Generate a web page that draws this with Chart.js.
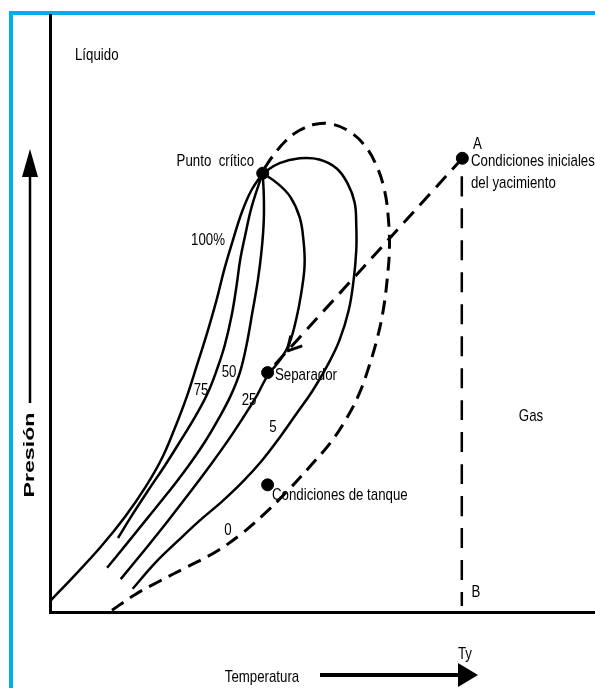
<!DOCTYPE html>
<html>
<head>
<meta charset="utf-8">
<script src="https://cdn.jsdelivr.net/npm/chart.js@4.4.1/dist/chart.umd.min.js"></script>
<style>
  html, body { margin: 0; padding: 0; background: #fff; }
  #wrap { position: relative; width: 595px; height: 688px; overflow: hidden; }
  #marco { position: absolute; left: 9px; top: 11px; width: 700px; height: 800px;
           border-top: 4px solid #00aeef; border-left: 4px solid #00aeef; }
  canvas { position: absolute; left: 0; top: 0; }
</style>
</head>
<body>
<div id="wrap">
  <div id="marco"></div>
  <canvas id="fase" width="601" height="688"></canvas>
</div>
<script>
// Temperatura (x) y presión (y) en unidades relativas 0-100
const curva100 = [[0.2,2.0],[4.8,6.4],[9.5,11.1],[13.9,16.1],[17.6,21.0],[20.6,25.8],[22.9,30.7],[25.0,35.7],
  [27.0,41.3],[29.0,47.1],[30.6,52.2],[32.1,57.6],[33.6,62.2],[35.2,66.8],[37.0,70.6],[39.1,73.5]];
const curva75 = [[39.1,73.5],[38.0,70.6],[36.9,67.3],[36.0,63.6],[35.0,59.2],[34.3,54.7],[33.4,49.7],[32.1,44.6],
  [30.6,40.4],[29.0,36.7],[26.8,32.9],[24.0,28.7],[21.1,24.5],[18.0,20.3],[15.0,16.1],[12.5,12.4]];
const curva50 = [[39.1,73.5],[39.3,69.8],[39.3,65.6],[38.9,60.6],[38.2,55.5],[37.2,50.2],[36.1,44.6],[34.9,40.1],
  [33.2,36.2],[31.0,32.4],[28.4,28.4],[25.3,24.3],[21.7,20.0],[17.8,15.6],[13.9,11.2],[10.5,7.4]];
const curva25 = [[39.1,73.5],[41.8,71.8],[44.2,69.5],[45.9,66.1],[46.6,62.2],[46.8,58.1],[46.2,53.5],[45.3,49.2],
  [44.0,45.0],[42.2,42.1],[40.0,39.6],[38.0,36.2],[35.6,32.7],[32.7,28.7],[29.4,24.5],[25.7,20.0],[21.7,15.3],
  [17.4,10.4],[13.0,5.5]];
const curva5 = [[39.1,73.5],[42.2,75.2],[45.9,76.0],[49.5,75.8],[52.7,74.3],[54.7,71.8],[56.0,68.6],[56.3,64.8],
  [56.3,60.6],[55.8,55.5],[54.9,50.5],[53.2,45.5],[51.0,41.3],[48.3,37.1],[45.3,33.2],[42.2,29.2],[38.9,25.3],
  [35.4,21.8],[31.6,18.5],[27.5,15.3],[23.5,11.9],[19.3,8.2],[15.2,3.9]];
const curva0 = [[11.4,0.3],[15.6,2.9],[20.2,5.2],[25.3,7.6],[30.5,10.1],[35.2,13.1],[39.6,16.6],[44.0,20.6],
  [48.1,24.7],[51.6,28.4],[54.5,32.4],[56.9,36.7],[58.7,41.3],[60.2,46.0],[61.3,50.8],[62.0,55.9],[62.4,60.9],
  [62.2,65.9],[61.5,70.6],[60.0,74.8],[57.8,78.2],[55.0,80.5],[51.9,81.7],[48.8,81.7],[45.9,80.7],[43.3,78.9],
  [40.9,76.3],[39.4,74.3]];
const trayectoria = [[75.8,76.0],[40.0,40.1]];
const lineaTy = [[75.7,73.0],[75.7,1.0]];
const puntos = [[39.1,73.5],[75.8,76.0],[40.0,40.1],[40.0,21.3]];

const FUENTE = '"Liberation Sans", Arial, sans-serif';
const toXY = arr => arr.map(([t, p]) => ({ x: t, y: p }));

function linea(data, dash, width) {
  return {
    data: toXY(data), showLine: true, fill: false,
    borderColor: '#000', borderWidth: width, borderDash: dash, borderCapStyle: 'butt',
    pointRadius: 0, tension: 0.4
  };
}

const anotaciones = {
  id: 'anotaciones',
  afterDatasetsDraw(chart) {
    const ctx = chart.ctx;
    const sx = chart.scales.x, sy = chart.scales.y;
    ctx.save();

    // punta de flecha sobre la trayectoria
    const x0 = sx.getPixelForValue(trayectoria[0][0]), y0 = sy.getPixelForValue(trayectoria[0][1]);
    const x1 = sx.getPixelForValue(trayectoria[1][0]), y1 = sy.getPixelForValue(trayectoria[1][1]);
    const tx = x0 + (x1 - x0) * 0.9, ty = y0 + (y1 - y0) * 0.9;
    const ang = Math.atan2(y1 - y0, x1 - x0);
    ctx.strokeStyle = '#000';
    ctx.lineWidth = 3;
    ctx.beginPath();
    [-0.5, 0.5].forEach(d => {
      ctx.moveTo(tx, ty);
      ctx.lineTo(tx - 16 * Math.cos(ang + d), ty - 16 * Math.sin(ang + d));
    });
    ctx.stroke();

    // textos (letra estrecha)
    ctx.fillStyle = '#000';
    ctx.textBaseline = 'middle';
    const txt = (s, x, y, align) => {
      ctx.save();
      ctx.translate(x, y);
      ctx.scale(0.78, 1);
      ctx.font = '17px ' + FUENTE;
      ctx.textAlign = align || 'left';
      ctx.fillText(s, 0, 0);
      ctx.restore();
    };
    txt('Líquido', 75, 55);
    txt('Punto  crítico', 254, 161, 'right');
    txt('A', 473, 144);
    txt('Condiciones iniciales', 471, 161);
    txt('del yacimiento', 471, 183);
    txt('100%', 208, 240, 'center');
    txt('75', 201, 390, 'center');
    txt('50', 229, 372, 'center');
    txt('25', 249, 400, 'center');
    txt('5', 273, 427, 'center');
    txt('0', 228, 530, 'center');
    txt('Separador', 275, 375);
    txt('Condiciones de tanque', 272, 495);
    txt('Gas', 531, 416, 'center');
    txt('B', 476, 592, 'center');
    txt('Ty', 465, 654, 'center');
    txt('Temperatura', 262, 677, 'center');

    // flecha de temperatura
    ctx.lineWidth = 4;
    ctx.beginPath();
    ctx.moveTo(320, 675); ctx.lineTo(462, 675);
    ctx.stroke();
    ctx.beginPath();
    ctx.moveTo(478, 675); ctx.lineTo(458, 663); ctx.lineTo(458, 687);
    ctx.closePath(); ctx.fill();

    // flecha de presión
    ctx.lineWidth = 2.5;
    ctx.beginPath();
    ctx.moveTo(30, 403); ctx.lineTo(30, 172);
    ctx.stroke();
    ctx.beginPath();
    ctx.moveTo(30, 149); ctx.lineTo(22, 177); ctx.lineTo(38, 177);
    ctx.closePath(); ctx.fill();

    ctx.translate(30, 455);
    ctx.rotate(-Math.PI / 2);
    ctx.font = 'bold 15px ' + FUENTE;
    ctx.textAlign = 'center';
    const w = ctx.measureText('Presión').width;
    ctx.scale(85 / w, 1);
    ctx.fillText('Presión', 0, 0);
    ctx.restore();
  }
};

new Chart(document.getElementById('fase'), {
  type: 'scatter',
  data: {
    datasets: [
      linea(curva100, [], 2.5),
      linea(curva75, [], 2.5),
      linea(curva50, [], 2.5),
      linea(curva25, [], 2.5),
      linea(curva5, [], 2.5),
      linea(curva0, [14, 8], 3),
      linea(trayectoria, [15, 9], 3),
      linea(lineaTy, [20, 12], 2.5),
      { data: toXY(puntos), pointRadius: 6, pointBackgroundColor: '#000', pointBorderColor: '#000', showLine: false }
    ]
  },
  options: {
    responsive: false,
    animation: false,
    events: [],
    layout: { padding: { top: 15, left: 0, right: 0, bottom: 0 } },
    plugins: { legend: { display: false }, tooltip: { enabled: false } },
    scales: {
      x: {
        type: 'linear', min: 0, max: 100,
        grid: { display: false }, ticks: { display: false },
        border: { display: true, color: '#000', width: 3 },
        afterFit: s => { s.height = 76; }
      },
      y: {
        type: 'linear', min: 0, max: 100,
        grid: { display: false }, ticks: { display: false },
        border: { display: true, color: '#000', width: 3 },
        afterFit: s => { s.width = 50; }
      }
    }
  },
  plugins: [anotaciones]
});
</script>
</body>
</html>
